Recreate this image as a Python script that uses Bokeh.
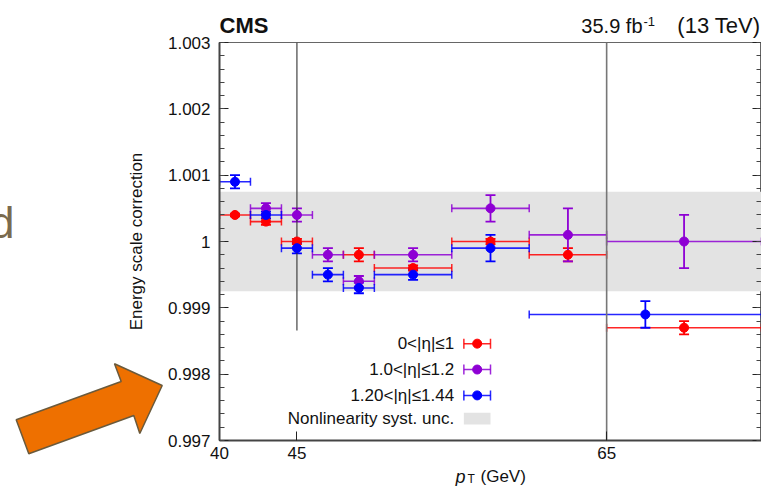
import numpy as np
from bokeh.plotting import figure
from bokeh.models import (ColumnDataSource, Whisker, TeeHead, Label, BoxAnnotation,
                          FixedTicker, LinearAxis, CustomJSTickFormatter, Range1d)
from bokeh.core.properties import value
from bokeh.embed import file_html
from bokeh.resources import INLINE

# ---------------- data ----------------
x_ticks = [40, 45, 65]
y_ticks = [0.997, 0.998, 0.999, 1.0, 1.001, 1.002, 1.003]
y_minor = [round(0.997 + 0.0002 * i, 4) for i in range(31)]

red_lo = [40, 42, 44, 48, 50, 55, 60, 65]
red_hi = [42, 44, 46, 50, 55, 60, 65, 75]
red_y = [1.0004, 1.0003, 1.0000, 0.9998, 0.9996, 1.0000, 0.9998, 0.9987]
red_err = [0.00002, 0.00005, 0.00004, 0.0001, 0.00004, 0.00004, 0.0001, 0.0001]

purple_lo = [42, 44, 46, 48, 50, 55, 60, 65]
purple_hi = [44, 46, 48, 50, 55, 60, 65, 75]
purple_y = [1.0005, 1.0004, 0.9998, 0.9994, 0.9998, 1.0005, 1.0001, 1.0000]
purple_err = [0.00008, 0.0001, 0.0001, 0.00008, 0.0001, 0.0002, 0.0004, 0.0004]

blue_lo = [40, 42, 44, 46, 48, 50, 55, 60]
blue_hi = [42, 44, 46, 48, 50, 55, 60, 75]
blue_y = [1.0009, 1.0004, 0.9999, 0.9995, 0.9993, 0.9995, 0.9999, 0.9989]
blue_err = [0.0001, 0.00005, 0.00008, 0.0001, 0.00008, 0.00008, 0.0002, 0.0002]

band_lo = 0.99925
band_hi = 1.00075

vline_x = [45, 65]
vline_y0 = [0.99866, 0.997]
vline_y1 = [1.003, 1.003]

series_labels = ["0<|η|≤1", "1.0<|η|≤1.2", "1.20<|η|≤1.44"]
band_label = "Nonlinearity syst. unc."

X0, X1 = 40, 75
Y0, Y1 = 0.997, 1.003

# ---------------- style / layout ----------------
FONT = "Liberation Sans"
RED = "#ff0000"
PURPLE = "#8e00d4"
BLUE = "#0000ff"
BAND = "#e3e3e3"
TXT = "#111111"

W, H = 761, 486
BL, BT, BB, BR = 219, 42, 46, 0
FW, FH = W - BL - BR, H - BT - BB

p = figure(width=W, height=H, x_range=Range1d(X0, X1), y_range=Range1d(Y0, Y1),
           output_backend="svg", toolbar_location=None,
           min_border_left=BL, min_border_right=BR, min_border_top=BT, min_border_bottom=BB,
           background_fill_color="white", border_fill_color="white")
p.title.visible = False
p.xgrid.visible = False
p.ygrid.visible = False
p.outline_line_color = "#666666"
p.outline_line_width = 1

# axes
p.xaxis.ticker = FixedTicker(ticks=x_ticks, minor_ticks=[])
p.yaxis.ticker = FixedTicker(ticks=y_ticks, minor_ticks=y_minor)
p.yaxis.formatter = CustomJSTickFormatter(code="return String(Number(tick.toFixed(3)));")
for ax in (p.xaxis, p.yaxis):
    ax.major_tick_in = 9
    ax.major_tick_out = 0
    ax.minor_tick_in = 5
    ax.minor_tick_out = 0
    ax.axis_line_width = 2
    ax.axis_line_color = "#444444"
    ax.major_tick_line_color = "#222222"
    ax.minor_tick_line_color = "#444444"
    ax.major_label_text_font = FONT
    ax.major_label_text_font_size = "17px"
    ax.major_label_text_color = TXT
p.yaxis.major_label_standoff = 9
p.xaxis.major_label_standoff = 6
p.yaxis.axis_label = "Energy scale correction"
p.yaxis.axis_label_text_font = FONT
p.yaxis.axis_label_text_font_size = "17px"
p.yaxis.axis_label_text_font_style = "normal"
p.yaxis.axis_label_standoff = 19
p.yaxis.axis_label_text_color = TXT

ry = LinearAxis(ticker=FixedTicker(ticks=y_ticks, minor_ticks=y_minor),
                formatter=CustomJSTickFormatter(code="return '';"),
                major_label_text_font_size="1px", major_label_standoff=0,
                major_tick_in=9, major_tick_out=0, minor_tick_in=5, minor_tick_out=0,
                major_tick_line_color="#222222", minor_tick_line_color="#444444",
                axis_line_color="#666666", axis_line_width=1)
p.add_layout(ry, "right")

# systematic band
p.add_layout(BoxAnnotation(bottom=band_lo, top=band_hi, fill_color=BAND, fill_alpha=1.0,
                           line_alpha=0, level="underlay"))

# vertical reference lines
p.segment(x0=[vline_x[0]], y0=[vline_y0[0]], x1=[vline_x[0]], y1=[vline_y1[0]],
          line_color="#333333", line_width=1.1)
p.segment(x0=[vline_x[1]], y0=[vline_y0[1]], x1=[vline_x[1]], y1=[vline_y1[1]],
          line_color="#777777", line_width=1.6)


def draw_series(lo, hi, y, err, color):
    lo = np.array(lo, float)
    hi = np.array(hi, float)
    y = np.array(y, float)
    err = np.array(err, float)
    src = ColumnDataSource(dict(x=(lo + hi) / 2, y=y, xlo=lo, xhi=hi, ylo=y - err, yhi=y + err))
    p.add_layout(Whisker(source=src, base="y", lower="xlo", upper="xhi", dimension="width",
                         line_color=color, line_width=1.6, line_alpha=0.85,
                         upper_head=TeeHead(size=8, line_color=color, line_width=1.5, line_alpha=0.85),
                         lower_head=TeeHead(size=8, line_color=color, line_width=1.5, line_alpha=0.85)))
    p.add_layout(Whisker(source=src, base="x", lower="ylo", upper="yhi", dimension="height",
                         line_color=color, line_width=1.8,
                         upper_head=TeeHead(size=10, line_color=color, line_width=1.8),
                         lower_head=TeeHead(size=10, line_color=color, line_width=1.8)))
    p.scatter("x", "y", source=src, size=9, color=color)


draw_series(red_lo, red_hi, red_y, red_err, RED)
draw_series(purple_lo, purple_hi, purple_y, purple_err, PURPLE)
draw_series(blue_lo, blue_hi, blue_y, blue_err, BLUE)

# legend (text on the left, symbol on the right, ROOT style)
leg_text_x = 55.15
leg_sym_x0 = 55.78
leg_sym_x1 = 57.5
leg_rows = [0.99846, 0.99807, 0.99768, 0.99733]
for lab, yy, col in zip(series_labels, leg_rows[:3], [RED, PURPLE, BLUE]):
    p.add_layout(Label(x=leg_text_x, y=yy, text=lab, text_align="right", text_baseline="middle",
                       text_font=FONT, text_font_size="17px", text_color=TXT))
    lsrc = ColumnDataSource(dict(y=[yy], lo=[leg_sym_x0], hi=[leg_sym_x1],
                                 x=[(leg_sym_x0 + leg_sym_x1) / 2]))
    p.add_layout(Whisker(source=lsrc, base="y", lower="lo", upper="hi", dimension="width",
                         line_color=col, line_width=1.5, line_alpha=0.85,
                         upper_head=TeeHead(size=10, line_color=col, line_width=1.5, line_alpha=0.85),
                         lower_head=TeeHead(size=10, line_color=col, line_width=1.5, line_alpha=0.85)))
    p.scatter("x", "y", source=lsrc, size=9, color=col)
p.add_layout(Label(x=leg_text_x, y=leg_rows[3], text=band_label, text_align="right",
                   text_baseline="middle", text_font=FONT, text_font_size="17px",
                   text_color=TXT))
p.add_layout(BoxAnnotation(left=leg_sym_x0, right=leg_sym_x1,
                           bottom=leg_rows[3] - 0.00009, top=leg_rows[3] + 0.00009,
                           fill_color=BAND, fill_alpha=1.0, line_alpha=0))


# ---- texts outside the frame: overlay-level text glyphs anchored at frame corners ----
def outside_text(x, y, text, dx, dy, size, style="normal", align="left", color=TXT):
    p.text(x=[x], y=[y], text=[text], x_offset=dx, y_offset=dy, level="overlay",
           text_font=value(FONT), text_font_size=value(size), text_font_style=style,
           text_align=align, text_baseline="middle", text_color=color)


outside_text(X0, Y1, "CMS", 0, -17, "22px", style="bold")
outside_text(X1, Y1, "(13 TeV)", -1, -17, "22px", align="right")
outside_text(X1, Y1, "35.9 fb", -119, -17, "20px", align="right")
outside_text(X1, Y1, "-1", -118, -21, "13px")
outside_text(X0, Y0, "p", 236, 36, "18px", style="italic")
outside_text(X0, Y0, "T", 248, 38, "12px")
outside_text(X0, Y0, "(GeV)", 261, 36, "17px")
# slide decoration: partial letter
outside_text(X0, Y1, "d", -205, 180, "44px", align="right", color="#7a6a4e")

# slide decoration: orange arrow (outline given in page pixels, mapped through the scales)
arrow_px = [(15.7, 419.3), (120.7, 381.0), (114.0, 363.3), (161.7, 385.0),
            (139.3, 433.0), (133.3, 415.0), (28.3, 453.3)]
ax_ = [X0 + (px - BL) * (X1 - X0) / FW for px, py in arrow_px]
ay_ = [Y0 + ((H - BB) - py) * (Y1 - Y0) / FH for px, py in arrow_px]
p.patch(ax_, ay_, fill_color="#ee7000", line_color="#6a5a3c", line_width=1.5, level="overlay")

open("out.html", "w").write(file_html(p, INLINE))
